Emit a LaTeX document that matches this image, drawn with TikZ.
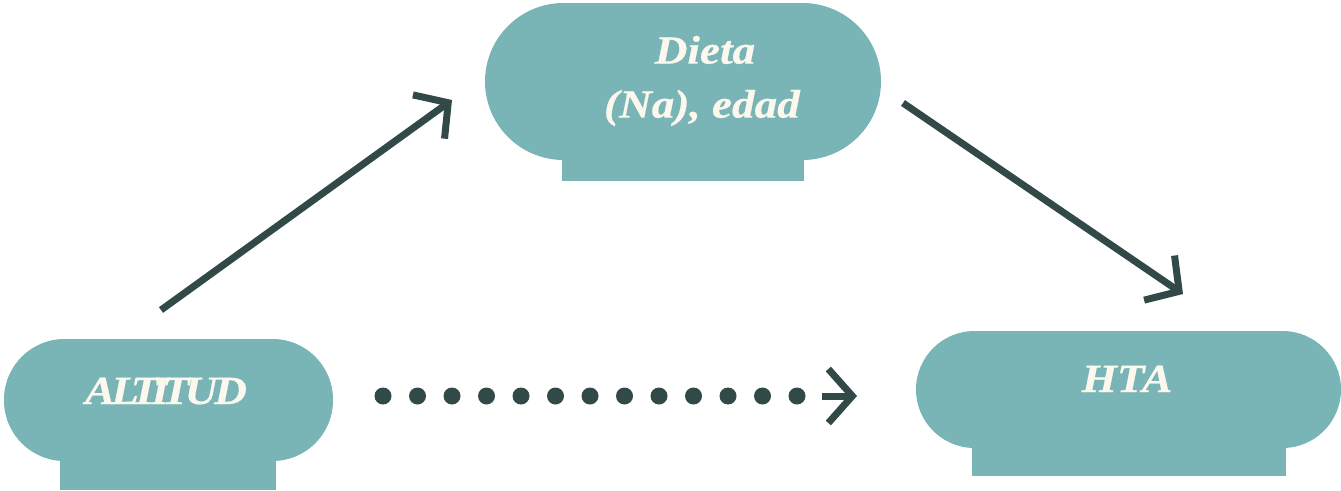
\documentclass[tikz,border=0pt]{standalone}
\usepackage{fontspec}
\setmainfont{Liberation Serif}
\newfontfamily\lblfont{Liberation Serif}[FakeStretch=1.13,FakeBold=0.6]
\usetikzlibrary{arrows.meta}
\definecolor{boxfill}{HTML}{79B4B6}
\definecolor{txtcol}{HTML}{FDF8EE}
\definecolor{arrcol}{HTML}{324A47}
\tikzset{
  boxshape/.style={fill=boxfill},
  lbl/.style={text=txtcol, font=\lblfont\fontsize{40}{54}\selectfont\bfseries\itshape, inner sep=0pt, align=center},
  conn/.style={draw=arrcol, line width=7pt, -{Straight Barb[length=24pt,width=54pt]}},
  dotline/.style={draw=arrcol, line width=17pt, line cap=round, dash pattern=on 0pt off 34.5pt}
}
\begin{document}
\begin{tikzpicture}[x=1pt,y=-1pt]
\useasboundingbox (0,0) rectangle (1341,490);
% ALTITUD
\fill[boxshape] (60,440) rectangle (276,490);
\fill[boxshape, rounded corners=60.5pt] (4,339) rectangle (333,461);
\node[lbl, anchor=base] (alt) at (166,404) {A\kern-4ptL\kern-8ptT\kern-7ptI\kern-7ptT\kern-5ptU\kern-3ptD};
% Dieta
\fill[boxshape] (562,140) rectangle (804,181);
\fill[boxshape, rounded corners=78.5pt] (485,3) rectangle (881,160);
\node[lbl, anchor=center] (dieta) at (702,81) {\hspace*{6pt}Dieta\\(Na), edad};
% HTA
\fill[boxshape] (972,420) rectangle (1286,476);
\fill[boxshape, rounded corners=58.5pt] (916,331) rectangle (1341,448);
\node[lbl, anchor=base] (hta) at (1127,392) {HTA};
% connectors
\coordinate (a1s) at (161,310);
\coordinate (a1e) at (452,100);
\coordinate (a2s) at (903,103);
\coordinate (a2e) at (1183,294);
\coordinate (d1) at (383,396);
\coordinate (d2) at (800,396);
\coordinate (a3s) at (822,396);
\coordinate (a3e) at (857,396);
\draw[conn] (a1s) -- (a1e);
\draw[conn] (a2s) -- (a2e);
\draw[dotline] (d1) -- (d2);
\draw[conn] (a3s) -- (a3e);
\end{tikzpicture}
\end{document}
